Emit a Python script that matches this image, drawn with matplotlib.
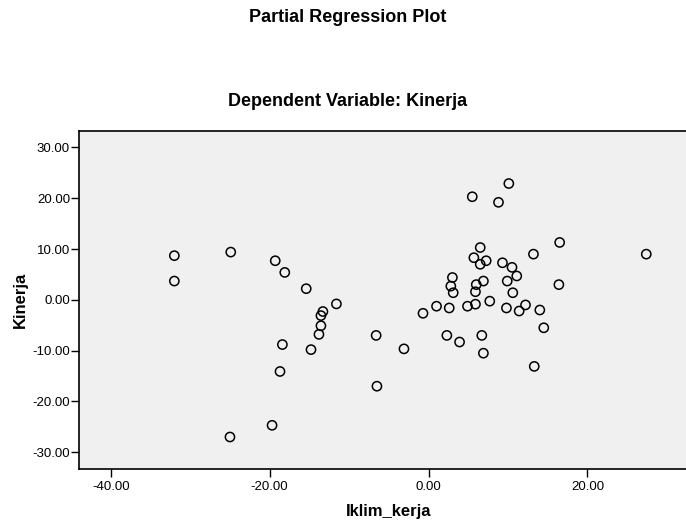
import matplotlib
matplotlib.use("Agg")
import matplotlib.pyplot as plt
from matplotlib.ticker import FuncFormatter

plt.rcParams['font.family'] = ['Liberation Sans', 'DejaVu Sans']

# Partial residuals
iklim_kerja = [
    -32.0, -32.0, -24.9, -19.3, -18.1, -15.4, -11.6, -13.3, -13.55, -13.55,
    -13.8, -18.4, -14.8, -18.7, -19.7, -25.0, -6.6, -3.1, -6.5, -0.7,
    10.1, 5.5, 8.8, 16.5, 27.4, 13.2, 6.5, 5.7, 7.25, 6.5,
    9.3, 10.5, 11.1, 9.9, 16.4, 3.0, 2.8, 3.1, 6.9, 6.0,
    5.9, 10.6, 7.7, 1.0, 2.6, 4.9, 5.9, 9.8, 12.2, 11.4,
    14.0, 14.5, 2.3, 3.9, 6.7, 6.9, 13.3,
]
kinerja = [
    8.7, 3.7, 9.4, 7.7, 5.4, 2.2, -0.8, -2.3, -3.1, -5.1,
    -6.8, -8.8, -9.8, -14.1, -24.7, -27.0, -7.0, -9.65, -17.0, -2.65,
    22.9, 20.3, 19.2, 11.3, 9.0, 9.0, 10.3, 8.3, 7.7, 7.0,
    7.3, 6.4, 4.7, 3.7, 3.0, 4.4, 2.7, 1.4, 3.7, 3.0,
    1.6, 1.4, -0.26, -1.25, -1.6, -1.25, -0.85, -1.6, -1.0, -2.2,
    -2.0, -5.5, -7.0, -8.3, -7.0, -10.5, -13.1,
]
x_ticks = [-40, -20, 0, 20]
y_ticks = [-30, -20, -10, 0, 10, 20, 30]

W, H = 686, 522
fig = plt.figure(figsize=(W / 100, H / 100), dpi=100)
left, right, top, bottom = 79, 686, 130.7, 469
ax = fig.add_axes([left / W, 1 - bottom / H, (right - left) / W, (bottom - top) / H])
ax.set_facecolor('#f0f0f0')

ax.scatter(iklim_kerja, kinerja, s=44, facecolors='none', edgecolors='black',
           linewidths=1.1, zorder=3)

ax.set_xlim(-44.0, 32.4)
ax.set_ylim(-33.3, 33.3)
ax.set_xticks(x_ticks)
ax.set_yticks(y_ticks)
fmt = FuncFormatter(lambda v, p: f"{v:.2f}")
ax.xaxis.set_major_formatter(fmt)
ax.yaxis.set_major_formatter(fmt)
ax.tick_params(axis='x', direction='out', length=5.5, width=1.0, pad=3, labelsize=9.5)
ax.tick_params(axis='y', direction='out', length=5.5, width=1.0, pad=1, labelsize=9.5)

for s in ['left', 'top', 'bottom']:
    ax.spines[s].set_linewidth(1.2)
    ax.spines[s].set_color('black')
ax.spines['right'].set_visible(False)

ax.set_xlabel('Iklim_kerja', fontsize=12, fontweight='bold')
ax.xaxis.set_label_coords((389 - left) / (right - left), -(504 - bottom) / (bottom - top), transform=ax.transAxes)
ax.set_ylabel('Kinerja', fontsize=12, fontweight='bold')
ax.yaxis.set_label_coords((28 - left) / (right - left), 0.5, transform=ax.transAxes)

fig.text(348 / W, 1 - 18 / H, 'Partial Regression Plot', ha='center', va='center',
         fontsize=13, fontweight='bold')
fig.text(348 / W, 1 - 101 / H, 'Dependent Variable: Kinerja', ha='center', va='center',
         fontsize=13, fontweight='bold')

fig.savefig('out.png', dpi=100)
